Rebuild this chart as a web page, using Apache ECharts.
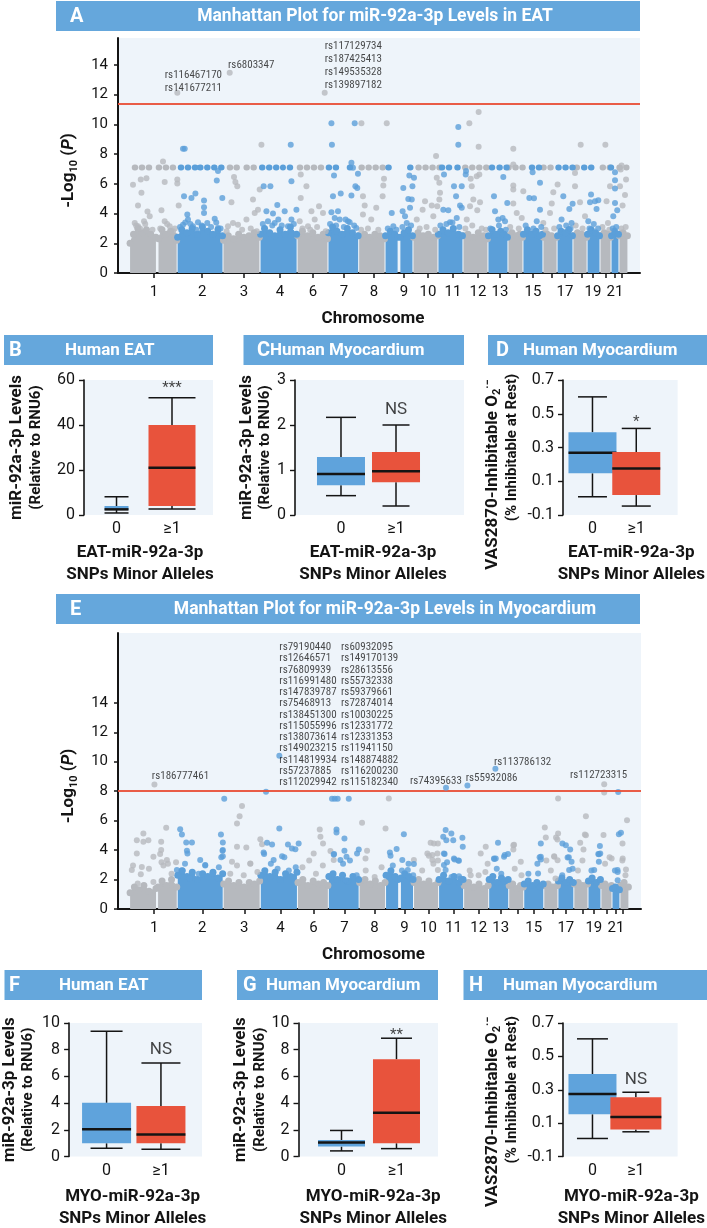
<!DOCTYPE html>
<html><head><meta charset="utf-8">
<script src="https://cdn.jsdelivr.net/npm/echarts@6/dist/echarts.min.js"></script>
<style>html,body{margin:0;padding:0;background:#fff}#c{width:707px;height:1228px}</style>
</head><body><div id="c"></div><script>
function pickFont(cands, fallback){
  const c=document.createElement('canvas').getContext('2d');
  const t='mmmmmmmmmmlli1234567890WWWabcdef';
  for(const f of cands){
    c.font='40px monospace'; const w1=c.measureText(t).width;
    c.font='40px "'+f+'", monospace'; const w2=c.measureText(t).width;
    c.font='40px serif'; const w3=c.measureText(t).width;
    c.font='40px "'+f+'", serif'; const w4=c.measureText(t).width;
    if(Math.abs(w2-w4)<0.5 && Math.abs(w2-w1)>0.5) return f;
  }
  return fallback;
}
const FN = 'Roboto';
const FN2 = pickFont(['Roboto Condensed','Liberation Sans Narrow','DejaVu Sans Condensed'],'Roboto');

// ---------------- DATA ----------------
// genome position axis in Mb (cumulative), chromosome boundaries
const CHR_BOUNDS = [0,273,539,754,969,1148,1326,1479,1641,1786,1931,2076,2192,2279,2395,2477,2569,2651,2726,2790,2836,2888];
const X_TICKS = [139,418,661,870,1061,1241,1415,1589,1728,1873,2018,2146,2245,2337,2448,2523,2622,2685,2761,2813,2854];
const X_TICK_LABELS = ['1','2','3','4','6','7','8','9','10','11','12','13','','15','','17','','19','','21',''];
const Y_TICKS_MAN = [0,2,4,6,8,10,12,14];

// Panel A
const A_THRESHOLD = 11.35;
const A_ROW_LEVEL = 7.1;
const A_ROW_GRAY = [[27,124],[166,274],[578,597],[617,642],[675,723],[984,1129],[1342,1479],[1672,1798],[1943,2088],[2194,2301],[2397,2455],[2590,2606],[2741,2784],[2838,2880]];
const A_ROW_BLUE = [[294,379],[406,549],[765,887],[926,945],[1152,1222],[1274,1307],[1498,1537],[1624,1653],[1808,1856],[1898,1933],[2098,2123],[2142,2185],[2330,2378],[2484,2581],[2633,2697],[2788,2826]];
const A_DENSE_TOP = [
 [[[0,2.0],[20,2.6],[45,3.0],[70,2.7],[95,2.9],[120,2.6],[150,2.4]],[[165,2.3],[185,2.9],[210,2.6],[235,2.8],[255,2.5],[270,2.2]]],
 [[[276,2.4],[300,2.9],[330,2.7],[360,3.0],[390,2.6],[420,3.1],[450,2.8],[480,2.6],[510,2.9],[536,2.5]]],
 [[[542,2.2],[570,2.5],[600,2.3],[630,2.6],[660,2.4],[690,2.5],[720,2.7],[750,2.4]]],
 [[[757,2.6],[780,3.0],[810,2.7],[840,2.5],[870,2.9],[900,2.6],[930,3.1],[966,2.6]]],
 [[[972,2.5],[1000,2.8],[1030,2.5],[1060,2.7],[1090,2.4],[1120,2.6],[1145,2.3]]],
 [[[1151,2.7],[1175,3.1],[1200,2.8],[1230,2.6],[1260,3.0],[1290,2.7],[1323,2.5]]],
 [[[1329,2.5],[1360,2.6],[1390,2.4],[1420,2.6],[1450,2.5],[1476,2.3]]],
 [[[1482,2.5],[1510,2.8],[1535,2.6],[1552,2.4]],[[1568,2.4],[1590,2.7],[1615,2.9],[1638,2.5]]],
 [[[1644,2.4],[1670,2.7],[1700,2.5],[1730,2.6],[1760,2.4],[1783,2.5]]],
 [[[1789,2.6],[1815,2.9],[1845,2.7],[1875,3.0],[1905,2.6],[1928,2.5]]],
 [[[1934,2.5],[1960,2.6],[1990,2.4],[2020,2.7],[2050,2.5],[2073,2.3]]],
 [[[2079,2.5],[2100,2.9],[2125,2.6],[2150,2.8],[2170,2.6],[2189,2.4]]],
 [[[2195,2.5],[2215,2.7],[2240,2.5],[2260,2.6],[2276,2.4]]],
 [[[2282,2.6],[2305,2.9],[2330,2.6],[2355,2.8],[2375,2.5],[2392,2.6]]],
 [[[2398,2.4],[2420,2.6],[2445,2.5],[2474,2.4]]],
 [[[2480,2.5],[2500,2.8],[2525,2.7],[2545,2.9],[2566,2.5]]],
 [[[2572,2.5],[2595,2.7],[2620,2.6],[2648,2.4]]],
 [[[2654,2.6],[2675,2.9],[2700,2.7],[2723,2.5]]],
 [[[2729,2.5],[2750,2.7],[2770,2.6],[2787,2.4]]],
 [[[2793,2.5],[2810,2.8],[2833,2.6]]],
 [[[2839,2.5],[2860,2.7],[2885,2.5]]]
];
const A_GRAY_POINTS = [
 [762,8.62],[1342,10.06],
 [191,7.5],[17,5.93],[62,6.29],[95,6.37],[66,5.39],[46,4.53],[101,4.13],[81,3.48],[27,3.37],[274,6.29],[274,6.02],[201,6.11],[182,4.22],[282,4.53],[201,3.48],[230,3.14],[249,2.81],[114,3.82],[46,3.14],
 [603,6.46],[611,6.11],[622,5.84],[588,4.76],[597,3.37],[626,3.25],[713,4.94],[723,4.04],[752,5.61],[742,4.26],[675,3.59],[568,3.14],
 [990,6.62],[1023,5.84],[990,5.05],[1052,4.15],[1096,4.49],[984,3.48],[1071,3.59],[1119,4.04],[1032,3.14],
 [1351,5.16],[1361,4.53],[1351,3.93],[1399,3.59],[1428,4.38],
 [1489,10.06],[1473,6.33],[1469,5.88],[1465,5.16],
 [1775,7.86],[1779,6.4],[1794,6.06],[1798,5.39],[1794,4.94],[1782,4.49],[1711,4.83],[1750,4.53],[1759,3.82],[1663,3.59],[1697,4.26],
 [1968,10.06],[2022,10.82],[2022,8.48],[1976,6.33],[2011,6.51],[2026,6.62],[1982,5.84],[2030,4.76],[1972,4.49],[2014,4.22],[1991,4.94],[1953,3.59],
 [2223,8.35],[2223,7.3],[2223,5.88],[2223,5.61],[2281,5.5],[2223,4.67],[2272,3.7],[2243,4.04],
 [2480,5.95],[2455,5.43],[2446,4.67],[2397,3.37],[2436,4.04],
 [2614,8.62],[2581,6.73],[2610,4.76],[2639,3.82],[2581,5.84],
 [2757,8.62],[2784,5.84],[2772,3.37],[2764,4.83],
 [2851,7.23],[2842,5.84],[2871,5.25],[2857,4.53],[2846,6.96],[2877,6.29],
 [35,3.2],[58,3.0],[88,3.3],[130,2.9],[175,3.0],[215,3.3],[260,3.0],
 [560,2.8],[650,2.9],[700,3.0],[735,2.8],
 [1000,3.0],[1045,2.9],[1085,3.1],[1135,2.8],
 [1340,2.9],[1380,3.0],[1440,2.9],
 [1680,3.0],[1720,3.1],[1770,2.9],
 [1945,3.0],[1985,3.2],[2040,3.0],[2065,2.9],
 [2205,3.1],[2255,3.0],
 [2410,2.9],[2460,3.0],
 [2585,3.2],[2625,3.0],
 [2740,3.1],[2780,2.9],
 [2850,3.0],[2875,3.1]
];
const A_BLUE_POINTS = [
 [307,8.35],[317,8.35],[510,6.85],[503,6.22],[313,5.16],[356,5.05],[379,5.34],[429,4.87],[429,4.42],[429,4.04],[332,3.93],[336,3.59],[448,3.37],[491,3.64],[535,5.05],[394,3.41],[307,3.25],[365,3.14],[510,3.03],
 [932,8.62],[936,6.17],[775,5.84],[814,5.84],[854,4.58],[791,4.15],[829,4.0],[897,4.15],[965,4.26],[800,3.48],[839,3.37],[936,3.59],[916,3.14],
 [1168,10.06],[1303,10.06],[1171,8.62],[1284,7.41],[1293,7.07],[1183,6.55],[1322,6.67],[1307,5.84],[1318,5.72],[1177,5.16],[1222,5.34],[1284,5.21],[1168,4.09],[1206,4.15],[1216,3.59],[1264,3.48],[1274,3.41],[1312,3.03],[1187,3.7],
 [1620,6.55],[1647,6.4],[1585,5.72],[1638,5.84],[1614,4.98],[1634,4.94],[1581,4.15],[1624,4.38],[1518,4.04],[1595,3.82],[1527,3.14],[1605,3.37],
 [1904,9.81],[1904,8.62],[1821,6.62],[1879,5.84],[1924,5.84],[1891,5.16],[1914,4.53],[1924,4.38],[1817,4.26],[1846,4.22],[1895,3.7],[1856,3.41],
 [1947,6.62],[1949,6.85],
 [2165,6.46],[2111,5.16],[2188,4.71],[2117,4.15],[2161,3.7],[2175,3.48],[2136,3.59],
 [2335,6.78],[2378,6.06],[2316,5.05],[2343,5.03],[2378,4.26],[2359,3.48],
 [2513,5.16],[2567,4.65],[2548,4.31],[2503,3.59],[2561,3.37],
 [2674,5.27],[2668,4.76],[2697,4.83],[2716,4.89],[2706,4.31],[2658,3.48],
 [2813,6.78],[2813,6.24],[2813,5.68],[2813,4.71],[2826,4.22],[2803,3.82],
 [290,3.1],[320,3.4],[350,3.3],[385,2.9],[415,3.2],[470,3.1],[500,3.4],[525,3.0],
 [770,3.3],[825,3.2],[860,3.6],[880,3.2],[950,3.3],
 [1160,3.3],[1195,3.2],[1240,3.1],[1250,3.6],[1300,3.2],
 [1495,3.0],[1545,2.9],[1580,3.1],[1630,3.2],
 [1800,3.2],[1835,3.3],[1870,3.4],[1910,3.1],
 [2090,3.0],[2140,3.2],[2180,2.9],
 [2295,3.2],[2340,3.0],[2385,3.1],
 [2490,3.1],[2530,3.2],[2555,3.0],
 [2665,3.0],[2690,3.3],[2715,3.0],
 [2800,3.0],[2820,3.1]
];
const A_LABELED = [
 {pos:274, val:12.12, color:'gray', ids:['rs116467170','rs141677211']},
 {pos:578, val:13.47, color:'gray', ids:['rs6803347']},
 {pos:1129, val:12.12, color:'gray', ids:['rs117129734','rs187425413','rs149535328','rs139897182']}
];

// Panel E
const E_THRESHOLD = 8.0;
const E_DENSE_TOP = [
 [[[0,1.1],[25,1.5],[50,1.3],[80,1.6],[110,1.2],[150,1.4]],[[162,1.5],[185,1.9],[210,1.6],[240,2.0],[270,1.5]]],
 [[[276,2.3],[300,2.6],[330,2.2],[360,2.5],[390,2.0],[420,2.4],[450,2.2],[480,2.5],[510,2.1],[536,2.4]]],
 [[[542,1.7],[570,1.9],[600,1.6],[630,1.8],[660,1.5],[690,1.8],[720,1.7],[750,1.9]]],
 [[[757,2.3],[780,2.6],[810,2.2],[840,2.5],[870,2.0],[900,2.4],[930,2.2],[966,2.5]]],
 [[[972,1.8],[1000,2.0],[1030,1.6],[1060,1.9],[1090,1.7],[1120,1.8],[1145,1.6]]],
 [[[1151,2.2],[1175,2.4],[1200,2.0],[1230,2.3],[1260,1.9],[1290,2.2],[1323,2.0]]],
 [[[1329,1.8],[1360,2.0],[1390,1.7],[1420,1.9],[1450,1.6],[1476,1.8]]],
 [[[1482,2.3],[1510,2.6],[1535,2.2],[1552,2.0]],[[1568,2.1],[1590,2.4],[1615,2.2],[1638,2.0]]],
 [[[1644,1.8],[1670,2.0],[1700,1.7],[1730,1.9],[1760,1.6],[1783,1.8]]],
 [[[1789,2.0],[1815,2.3],[1845,1.9],[1875,2.2],[1905,1.8],[1928,2.0]]],
 [[[1934,1.6],[1960,1.8],[1990,1.5],[2020,1.7],[2050,1.4],[2073,1.6]]],
 [[[2079,2.0],[2100,2.2],[2125,1.8],[2150,2.1],[2170,1.9],[2189,2.0]]],
 [[[2195,1.6],[2215,1.7],[2240,1.4],[2260,1.6],[2276,1.5]]],
 [[[2282,1.7],[2305,1.9],[2330,1.6],[2355,1.8],[2375,1.5],[2392,1.7]]],
 [[[2398,1.6],[2420,1.7],[2445,1.5],[2474,1.6]]],
 [[[2480,1.9],[2500,2.1],[2525,1.8],[2545,2.0],[2566,1.8]]],
 [[[2572,1.7],[2595,1.8],[2620,1.6],[2648,1.7]]],
 [[[2654,1.9],[2675,2.1],[2700,1.8],[2723,2.0]]],
 [[[2729,1.6],[2750,1.7],[2770,1.5],[2787,1.6]]],
 [[[2793,1.4],[2810,1.5],[2833,1.3]]],
 [[[2839,1.6],[2860,1.8],[2885,1.5]]]
];
const E_GRAY_POINTS = [
 [648,7.0],[634,6.3],[619,5.81],[1343,5.85],
 [39,4.67],[77,5.13],[77,4.56],[106,4.67],[209,5.51],[180,4.56],[180,4.0],[39,3.77],[135,3.54],[213,3.32],[68,2.86],[10,2.64],
 [619,4.22],[673,4.17],[754,4.74],[764,4.4],[590,3.2],[696,3.09],
 [1098,5.4],[1117,4.45],[1160,3.93],[1063,3.77],[1102,4.9],[1179,3.32],
 [1372,3.95],[1363,3.43],
 [2745,7.91],[1498,7.5],[2478,7.5],[2639,6.3],[2877,6.03],[2741,5.02],[2633,5.06],[2606,4.49],[2851,4.45],[2401,5.53],[2478,5.13],[2474,4.72],[1479,5.47],[1740,4.49],[1759,4.45],[2223,4.36],[2059,4.22],[2219,4.04],[2455,3.59],[2030,3.77],[1779,3.77],[1643,3.32],
 [2639,5.0],[2407,4.85],[2466,4.85],[2625,4.04],[2788,3.43],[2852,3.43],[2871,2.68],[2475,3.31],[2456,3.54],[2219,4.33],[2262,3.2],[1972,2.3],[1782,4.45],[1750,3.66],[1721,3.77],[1750,3.32],[1782,2.64],
 [17,2.96],[62,2.36],[109,2.73],[44,1.73],[174,3.73],[182,3.18],[193,2.96],[219,3.07],[240,2.4],[266,3.18],[135,1.84],
 [580,2.4],[619,2.96],[658,2.29],[696,3.07],[737,2.51],
 [998,2.84],[1037,3.29],[1076,2.4],[1116,2.96],
 [1364,2.62],[1416,2.18],[1456,2.84],
 [1691,2.62],[1730,3.62],[1756,3.07],[1782,3.29],
 [1966,2.62],[2018,2.29],[2057,2.51],[2070,3.07],
 [2227,2.73],[2266,2.29],
 [2410,3.29],[2436,2.62],[2463,2.07],
 [2593,2.62],[2619,3.29],
 [2750,3.07],[2776,3.51],
 [2850,3.29],[2868,2.29]
];
const E_BLUE_POINTS = [
 [787,7.96],[545,7.49],[1169,7.49],[1185,7.49],[1202,7.49],[1266,7.49],[2826,7.94],
 [290,5.42],[300,5.06],[325,4.52],[358,4.52],[329,3.95],[332,3.77],[526,5.06],[537,4.52],[537,4.0],[537,3.59],[406,3.32],[435,2.98],[271,2.64],
 [864,5.47],[793,4.49],[822,4.38],[914,4.38],[937,4.11],[976,4.45],[957,4.06],[773,3.84],[880,3.59],[831,3.32],
 [1195,5.4],[1195,5.2],[1241,4.79],[1241,3.95],[1179,3.7],[1253,3.54],[1324,4.04],[1314,3.77],[1218,3.32],
 [1585,5.08],[1827,5.36],[1813,4.9],[1860,5.13],[1871,4.67],[1924,4.83],[1926,4.22],[2130,4.49],[2378,4.45],[2503,4.45],[2523,4.33],[2548,4.04],[2830,5.08],[2842,5.17],[2720,4.27],[2722,3.77],[1543,4.07],[1504,3.84],[2117,3.43],[2165,3.54],[1817,3.77],[1875,3.43],[2378,3.54],[2687,2.64],[2822,2.64],
 [2714,3.72],[2714,3.2],[2823,2.52],[2533,3.5],[2556,3.2],[2542,2.64],[2378,3.36],[2362,2.41],[2169,3.66],[2107,3.43],[1831,4.67],[1879,3.36],[1904,3.27],[1817,2.98],[1827,2.64],[1904,2.23],[1576,3.32],[1643,3.05],[1608,2.64],
 [305,2.62],[318,3.07],[345,2.07],[397,2.4],[435,2.96],[476,2.4],[528,3.51],[514,2.84],[535,3.96],
 [776,3.73],[815,3.07],[854,2.73],[893,3.51],[919,2.62],[959,2.84],
 [1181,3.73],[1233,3.07],[1273,3.29],[1312,2.29],[1247,1.96],
 [1508,3.62],[1521,2.96],[1574,2.62],[1612,3.07],[1639,2.29],
 [1821,3.73],[1835,3.18],[1861,2.18],[1900,3.29],[1913,2.07],
 [2109,3.4],[2123,2.73],[2149,2.4],[2188,3.73],
 [2306,2.4],[2358,3.07],[2371,3.51],
 [2502,2.29],[2540,3.51],[2562,2.73],
 [2671,2.62],[2711,3.73],
 [2807,2.62],[2823,1.96]
];
const E_COL1 = ['rs79190440','rs12646571','rs76809939','rs116991480','rs147839787','rs75468913','rs138451300','rs115055996','rs138073614','rs149023215','rs114819934','rs57237885','rs112029942'];
const E_COL2 = ['rs60932095','rs149170139','rs28613556','rs55732338','rs59379661','rs72874014','rs10030225','rs12331772','rs12331353','rs11941150','rs148874882','rs116200230','rs115182340'];
const E_LABELED = [
 {pos:141, val:8.45, color:'gray', ids:['rs186777461']},
 {pos:864, val:10.4, color:'blue', ids:E_COL1, ids2:E_COL2},
 {pos:1829, val:8.23, color:'blue', ids:['rs74395633']},
 {pos:1953, val:8.39, color:'blue', ids:['rs55932086']},
 {pos:2115, val:9.52, color:'blue', ids:['rs113786132']},
 {pos:2745, val:8.47, color:'gray', ids:['rs112723315']}
];

// Box plots: [low whisker, Q1, median, Q3, high whisker] for groups "0" and "≥1"
const GROUPS = ['0','≥1'];
const BOX_B = [[0.9,2.2,2.5,4.0,8.1],[2.7,4.0,21,40,52.1]];
const BOX_C = [[0.43,0.66,0.91,1.29,2.17],[0.2,0.73,0.97,1.4,2.0]];
const BOX_D = [[0.008,0.147,0.269,0.39,0.60],[-0.047,0.018,0.176,0.273,0.413]];
const BOX_F = [[0.62,0.99,2.05,4.02,9.38],[0.54,0.99,1.65,3.78,7.01]];
const BOX_G = [[0.42,0.74,1.04,1.23,1.95],[0.59,0.99,3.28,7.28,8.86]];
const BOX_H = [[0.008,0.153,0.275,0.394,0.605],[0.048,0.062,0.137,0.255,0.285]];
const SIG_B = ['***',56.2], SIG_C = ['NS',2.33], SIG_D = ['*',0.451], SIG_F = ['NS',8.0], SIG_G = ['**',9.1], SIG_H = ['NS',0.358];
const Y_TICKS_B = [0,20,40,60], Y_TICKS_C = [0,1,2,3], Y_TICKS_D = [-0.1,0.1,0.3,0.5,0.7], Y_TICKS_FG = [0,2,4,6,8,10];

// ---------------- STYLE / LAYOUT ----------------
const C_BLUE = '#5b9fd9', C_GRAY = '#b6b9be', C_RED = '#e8533c', C_BG = '#eef4fa', C_HEAD = '#65a7dc', C_BOXBLUE='#5fa3dc', C_INK='#141414';
const X_RANGE = [-70, 2958];

const chart = echarts.init(document.getElementById('c'), null, {renderer:'canvas'});
const grids = [], xAxes = [], yAxes = [], series = [], graphics = [];

function segData(tops, parity){
  const out=[];
  tops.forEach((segs,ci)=>{ if(ci%2!==parity) return; segs.forEach(seg=>{ seg.forEach(p=>out.push(p)); out.push(['-','-']); }); });
  return out;
}
function rowData(segs, lvl){ const out=[]; segs.forEach(s=>{ out.push([s[0],lvl],[s[1],lvl],['-','-']); }); return out; }

function manhattan(gi, cfg){
  grids.push({left:118, top:cfg.top, width:cfg.w, height:cfg.h, show:true, backgroundColor:C_BG, borderWidth:0});
  xAxes.push({type:'value', gridIndex:gi, min:X_RANGE[0], max:X_RANGE[1],
    axisLine:{show:true, onZero:false, lineStyle:{color:C_INK, width:2}},
    axisTick:{show:true, customValues:X_TICKS, length:5, lineStyle:{color:C_INK, width:1.5}},
    axisLabel:{customValues:X_TICKS, formatter:v=>X_TICK_LABELS[X_TICKS.indexOf(v)]||'', fontSize:15, color:C_INK, margin:12, fontFamily:FN},
    splitLine:{show:false},
    name:'Chromosome', nameLocation:'middle', nameGap:37,
    nameTextStyle:{fontSize:17, fontWeight:'bold', color:C_INK, fontFamily:FN, padding:[0,12,0,0]}});
  yAxes.push({type:'value', gridIndex:gi, min:0, max:cfg.ymax,
    axisLine:{show:true, onZero:false, lineStyle:{color:C_INK, width:2}},
    axisTick:{show:true, customValues:Y_TICKS_MAN, length:4, lineStyle:{color:C_INK, width:1.5}},
    axisLabel:{customValues:Y_TICKS_MAN, fontSize:15, color:C_INK, margin:10, fontFamily:FN},
    splitLine:{show:false},
    name:'{n|-Log}{s|10}{n| (}{i|P}{n|)}{g|}', nameLocation:'middle', nameRotate:90, nameGap:36,
    nameTextStyle:{rich:{
      n:{fontSize:17, fontWeight:'bold', color:C_INK, fontFamily:FN, lineHeight:22, verticalAlign:'middle'},
      s:{fontSize:11, fontWeight:'bold', color:C_INK, fontFamily:FN, lineHeight:11, verticalAlign:'bottom'},
      i:{fontSize:17, fontWeight:'bold', fontStyle:'italic', color:C_INK, fontFamily:FN, lineHeight:22, verticalAlign:'middle'},
      g:{width:30, lineHeight:22}}}});
  const common = {xAxisIndex:gi, yAxisIndex:gi, animation:false, silent:true};
  [[0,C_GRAY],[1,C_BLUE]].forEach(([par,col])=>{
    series.push(Object.assign({type:'line', data:segData(cfg.dense, par), connectNulls:false, showSymbol:true, symbol:'circle', symbolSize:7,
      itemStyle:{color:col}, lineStyle:{color:col, width:1}, areaStyle:{color:col, opacity:1}, z:2}, common));
  });
  if(cfg.rowGray){
    [[cfg.rowGray,C_GRAY],[cfg.rowBlue,C_BLUE]].forEach(([segs,col])=>{
      series.push(Object.assign({type:'line', data:rowData(segs, cfg.rowLevel), connectNulls:false, showSymbol:false,
        lineStyle:{color:col, width:6, type:[0.5,6.5], cap:'round'}, z:3}, common));
    });
  }
  series.push(Object.assign({type:'scatter', data:cfg.gray, symbolSize:6, itemStyle:{color:C_GRAY}, z:4,
    markLine:{silent:true, symbol:'none', animation:false, label:{show:false}, lineStyle:{color:C_RED, width:2, type:'solid', opacity:0.95}, data:[{yAxis:cfg.threshold}]}}, common));
  series.push(Object.assign({type:'scatter', data:cfg.blue, symbolSize:6, itemStyle:{color:C_BLUE}, z:4}, common));
  series.push(Object.assign({type:'scatter', symbolSize:6, z:5, data:cfg.labeled.map((d,k)=>{
    const L = cfg.labelLayout[k];
    let fmt;
    if(d.ids2) fmt = d.ids.map((a,i)=>'{a|'+a+'}{b|'+d.ids2[i]+'}').join('\n');
    else fmt = d.ids.join('\n');
    return {value:[d.pos,d.val], itemStyle:{color:d.color==='gray'?C_GRAY:C_BLUE},
      label:{show:true, position:L.pos, distance:0, offset:L.off, formatter:fmt, fontSize:11, lineHeight:L.lh, color:'#1a1a1a', fontFamily:FN2,
        rich:{a:{width:L.colw||0, fontSize:11, lineHeight:L.lh, fontFamily:FN2, color:'#1a1a1a'}, b:{fontSize:11, lineHeight:L.lh, fontFamily:FN2, color:'#1a1a1a'}}}};
  })}, common));
}

manhattan(0, {top:38, w:522, h:235, ymax:15.8, dense:A_DENSE_TOP, rowGray:A_ROW_GRAY, rowBlue:A_ROW_BLUE, rowLevel:A_ROW_LEVEL,
  gray:A_GRAY_POINTS, blue:A_BLUE_POINTS, threshold:A_THRESHOLD, labeled:A_LABELED,
  labelLayout:[{pos:'left', off:[47.7,-11], lh:12.5},{pos:'right', off:[-4.7,-7.3], lh:12.5},{pos:'right', off:[-3,-27], lh:12.7}]});
manhattan(1, {top:633, w:523, h:276, ymax:18.74, dense:E_DENSE_TOP,
  gray:E_GRAY_POINTS, blue:E_BLUE_POINTS, threshold:E_THRESHOLD, labeled:E_LABELED,
  labelLayout:[{pos:'right', off:[-5.6,-8.4], lh:12},{pos:'right', off:[-3,-41], lh:11.25, colw:61.7},{pos:'right', off:[-39,-6.7], lh:12},{pos:'right', off:[-4.7,-7.6], lh:12},{pos:'right', off:[-4.4,-6.4], lh:12},{pos:'right', off:[-37.3,-9], lh:12}]});

function boxPanel(gi, cfg){
  grids.push({left:cfg.left, top:cfg.top, width:cfg.w, height:135, show:true, backgroundColor:C_BG, borderWidth:0});
  xAxes.push({type:'value', gridIndex:gi, min:cfg.xmin, max:cfg.xmax,
    axisLine:{show:false, onZero:false}, axisTick:{show:false}, splitLine:{show:false},
    axisLabel:{customValues:[0,1], formatter:v=>GROUPS[v], fontSize:16, color:C_INK, margin:6, fontFamily:FN},
    name:'{a|'+cfg.xname+'}\n{a|SNPs Minor Alleles}', nameLocation:'middle', nameGap:cfg.xgap,
    nameTextStyle:{padding:cfg.xpad, rich:{a:{fontSize:17, fontWeight:'bold', color:C_INK, fontFamily:FN, lineHeight:22}}}});
  yAxes.push({type:'value', gridIndex:gi, min:cfg.ymin, max:cfg.ymax,
    axisLine:{show:true, onZero:false, lineStyle:{color:C_INK, width:1.6}},
    axisTick:{show:true, customValues:cfg.ticks, length:5, lineStyle:{color:C_INK, width:1.4}},
    axisLabel:{customValues:cfg.ticks, fontSize:16, color:C_INK, margin:9, fontFamily:FN},
    splitLine:{show:false},
    name:cfg.yname, nameLocation:'middle', nameRotate:90, nameGap:cfg.ygap,
    nameTextStyle:{rich:{
      a:{fontSize:17, fontWeight:'bold', color:C_INK, fontFamily:FN, lineHeight:20},
      as:{fontSize:11, fontWeight:'bold', color:C_INK, fontFamily:FN, lineHeight:11, verticalAlign:'bottom'},
      ap:{fontSize:11, fontWeight:'bold', color:C_INK, fontFamily:FN, lineHeight:11, verticalAlign:'top'},
      g:{width:cfg.ygapw||0, lineHeight:20},
      b:{fontSize:15, fontWeight:'bold', color:C_INK, fontFamily:FN, lineHeight:18}}}});
  const widths = cfg.bw, caps = cfg.cw, cols=[C_BOXBLUE, C_RED];
  series.push({type:'custom', xAxisIndex:gi, yAxisIndex:gi, animation:false, silent:true, z:3,
    data:cfg.box.map((d,i)=>[i].concat(d)),
    renderItem:(params, api)=>{
      const i=api.value(0);
      const v=[1,2,3,4,5].map(k=>api.value(k));
      const py=v.map(val=>api.coord([i,val])[1]);
      const x=api.coord([i,v[2]])[0];
      const w=widths[i], cw=caps[i];
      const ls={stroke:C_INK, lineWidth:1.5};
      return {type:'group', children:[
        {type:'line', shape:{x1:x,y1:py[4],x2:x,y2:py[3]}, style:ls},
        {type:'line', shape:{x1:x,y1:py[1],x2:x,y2:py[0]}, style:ls},
        {type:'line', shape:{x1:x-cw/2,y1:py[4],x2:x+cw/2,y2:py[4]}, style:ls},
        {type:'line', shape:{x1:x-cw/2,y1:py[0],x2:x+cw/2,y2:py[0]}, style:ls},
        {type:'rect', shape:{x:x-w/2,y:py[3],width:w,height:py[1]-py[3]}, style:{fill:cols[i]}},
        {type:'line', shape:{x1:x-w/2,y1:py[2],x2:x+w/2,y2:py[2]}, style:{stroke:C_INK, lineWidth:2.5}}
      ]};
    }});
  series.push({type:'scatter', xAxisIndex:gi, yAxisIndex:gi, animation:false, silent:true, symbolSize:0, z:4,
    data:[[1,cfg.sig[1]]],
    label:{show:true, position:'inside', formatter:cfg.sig[0], fontSize:cfg.sig[0]==='NS'?17:15, color:C_INK, fontFamily:FN}});
}
const YN_MIR = '{a|miR-92a-3p Levels}\n{b|(Relative to RNU6)}';
const YN_VAS = '{a|VAS2870-Inhibitable O}{as|2}{ap|·−}{g|}\n{b|(% Inhibitable at Rest)}';
boxPanel(2, {left:84, top:380, w:129, xmin:-0.586, xmax:1.739, ymin:0, ymax:60, ticks:Y_TICKS_B, box:BOX_B, bw:[24,47], cw:[24,47], sig:SIG_B,
  xname:'EAT-miR-92a-3p', xgap:27, xpad:[0,17,0,0], yname:YN_MIR, ygap:39});
boxPanel(3, {left:295, top:380, w:169, xmin:-0.836, xmax:2.236, ymin:0, ymax:3, ticks:Y_TICKS_C, box:BOX_C, bw:[48,48], cw:[30,27], sig:SIG_C,
  xname:'EAT-miR-92a-3p', xgap:27, xpad:[0,13,0,0], yname:YN_MIR, ygap:14});
boxPanel(4, {left:563, top:380, w:144, xmin:-0.673, xmax:1.945, ymin:-0.1, ymax:0.7, ticks:Y_TICKS_D, box:BOX_D, bw:[48,48], cw:[29,29], sig:SIG_D,
  xname:'EAT-miR-92a-3p', xgap:27, xpad:[0,0,0,22], yname:YN_VAS, ygap:42, ygapw:54});
boxPanel(5, {left:67.6, top:1023, w:134.4, xmin:-0.689, xmax:1.755, ymin:0, ymax:10, ticks:Y_TICKS_FG, box:BOX_F, bw:[49,49], cw:[32,39], sig:SIG_F,
  xname:'MYO-miR-92a-3p', xgap:29, xpad:[0,6,0,0], yname:YN_MIR, ygap:31.6});
boxPanel(6, {left:298.5, top:1023, w:139.5, xmin:-0.782, xmax:1.755, ymin:0, ymax:10, ticks:Y_TICKS_FG, box:BOX_G, bw:[47,47], cw:[23,31], sig:SIG_G,
  xname:'MYO-miR-92a-3p', xgap:29, xpad:[0,0,0,10], yname:YN_MIR, ygap:25.5});
boxPanel(7, {left:563, top:1023, w:144, xmin:-0.679, xmax:1.963, ymin:-0.1, ymax:0.7, ticks:Y_TICKS_D, box:BOX_H, bw:[48,51], cw:[31,27], sig:SIG_H,
  xname:'MYO-miR-92a-3p', xgap:29, xpad:[0,0,0,22], yname:YN_VAS, ygap:42, ygapw:44});

// headers
const HEADERS = [
 {x:56,y:1,w:584,h:30,letter:'A',lx:70,title:'Manhattan Plot for miR-92a-3p Levels in EAT',tx:375,ta:'center',fs:17.5},
 {x:4,y:335,w:209,h:30,letter:'B',lx:9,title:'Human EAT',tx:65,ta:'left',fs:17},
 {x:243.5,y:335,w:220.5,h:30,letter:'C',lx:257,title:'Human Myocardium',tx:270,ta:'left',fs:17},
 {x:488,y:335,w:219,h:30,letter:'D',lx:496,title:'Human Myocardium',tx:523,ta:'left',fs:17},
 {x:56,y:594,w:584,h:30,letter:'E',lx:70,title:'Manhattan Plot for miR-92a-3p Levels in Myocardium',tx:385,ta:'center',fs:17.5},
 {x:4.5,y:970,w:197.5,h:30,letter:'F',lx:9,title:'Human EAT',tx:59,ta:'left',fs:17},
 {x:237,y:970,w:201,h:30,letter:'G',lx:243,title:'Human Myocardium',tx:266,ta:'left',fs:17},
 {x:463.5,y:970,w:243.5,h:30,letter:'H',lx:469,title:'Human Myocardium',tx:503,ta:'left',fs:17}
];
HEADERS.forEach(h=>{
  graphics.push({type:'rect', shape:{x:h.x,y:h.y,width:h.w,height:h.h}, style:{fill:C_HEAD}, silent:true});
  graphics.push({type:'text', x:h.lx, y:h.y+h.h/2+1, style:{text:h.letter, fill:'#fff', fontSize:20, fontWeight:'bold', fontFamily:FN, align:'left', verticalAlign:'middle'}, silent:true});
  graphics.push({type:'text', x:h.tx, y:h.y+h.h/2+1, style:{text:h.title, fill:'#fff', fontSize:h.fs, fontWeight:'bold', fontFamily:FN, align:h.ta, verticalAlign:'middle'}, silent:true});
});

chart.setOption({animation:false, backgroundColor:'#fff', grid:grids, xAxis:xAxes, yAxis:yAxes, series:series, graphic:graphics});
</script></body></html>
